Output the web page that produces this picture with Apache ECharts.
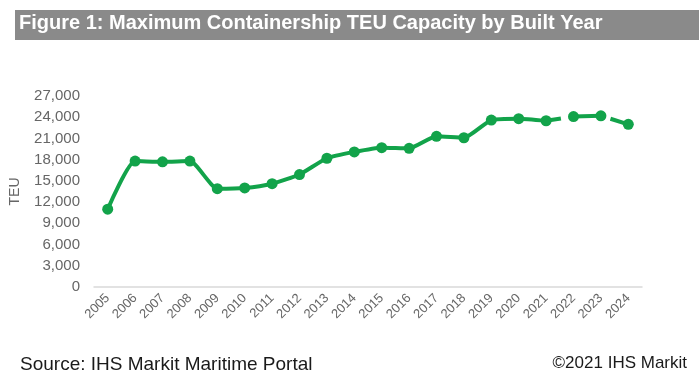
<!DOCTYPE html>
<html><head><meta charset="utf-8">
<script src="https://cdn.jsdelivr.net/npm/echarts@6/dist/echarts.min.js"></script>
<style>html,body{margin:0;padding:0;background:#fff}#c{width:699px;height:383px}</style>
</head><body><div id="c"></div>
<script>
const years = ['2005','2006','2007','2008','2009','2010','2011','2012','2013','2014','2015','2016','2017','2018','2019','2020','2021','2022','2023','2024'];
const teu = [11000,17800,17700,17800,13900,14000,14600,15900,18200,19100,19700,19600,21300,21100,23600,23800,23500,24100,24200,23000];
const yTicks = [0,3000,6000,9000,12000,15000,18000,21000,24000,27000];
const titleText = 'Figure 1: Maximum Containership TEU Capacity by Built Year';
const sourceText = 'Source: IHS Markit Maritime Portal';
const copyText = '©2021 IHS Markit';

const green = '#12a34a';
const font = '"Liberation Sans", Arial, sans-serif';
function part(a, b) { return teu.map((v, i) => (i >= a && i <= b) ? v : null); }
const iSolidEnd = years.indexOf('2021');
const i22 = years.indexOf('2022'), i23 = years.indexOf('2023'), i24 = years.indexOf('2024');
const sm = 0.18;

const chart = echarts.init(document.getElementById('c'), null, {renderer: 'canvas'});
chart.setOption({
  animation: false,
  backgroundColor: '#fff',
  graphic: [
    {type: 'rect', shape: {x: 15, y: 10, width: 684, height: 30}, style: {fill: '#8a8a8a'}, z: 0},
    {type: 'text', left: 19, top: 13, style: {text: titleText, fill: '#fff', font: 'bold 20px ' + font}, z: 1},
    {type: 'text', left: 20, top: 355, style: {text: sourceText, fill: '#1a1a1a', font: '19px ' + font}},
    {type: 'text', right: 12, top: 355, style: {text: copyText, fill: '#1a1a1a', font: '17px ' + font}}
  ],
  grid: {left: 90, right: 57, top: 96, bottom: 96},
  xAxis: {
    type: 'category', data: years, boundaryGap: true,
    axisLine: {lineStyle: {color: '#d9d9d9', width: 1.5}},
    axisTick: {show: false},
    axisLabel: {rotate: 45, interval: 0, margin: 9, color: '#666666', fontSize: 13, fontFamily: font}
  },
  yAxis: {
    type: 'value', min: 0, max: yTicks[yTicks.length - 1], interval: yTicks[1] - yTicks[0],
    name: 'TEU', nameLocation: 'middle', nameRotate: 90, nameGap: 72,
    nameTextStyle: {color: '#666666', fontSize: 14, fontFamily: font},
    axisLine: {show: false}, axisTick: {show: false}, splitLine: {show: false},
    axisLabel: {margin: 14, color: '#666666', fontSize: 15, fontFamily: font,
      formatter: v => v.toLocaleString('en-US')}
  },
  series: [
    {type: 'line', data: part(0, iSolidEnd), smooth: sm, showSymbol: false,
      lineStyle: {color: green, width: 4}, z: 2},
    {type: 'line', data: part(i22, i23), smooth: sm, showSymbol: false,
      lineStyle: {color: green, width: 4}, z: 2},
    {type: 'line', data: part(iSolidEnd, i22), showSymbol: false,
      lineStyle: {color: green, width: 4, type: [15, 200]}, z: 2},
    {type: 'line', data: part(i23, i24), showSymbol: false,
      lineStyle: {color: green, width: 4, type: [19, 10], dashOffset: 19}, z: 2},
    {type: 'scatter', data: teu, symbol: 'circle', symbolSize: 11,
      itemStyle: {color: green, opacity: 1}, z: 3}
  ]
});
</script></body></html>
